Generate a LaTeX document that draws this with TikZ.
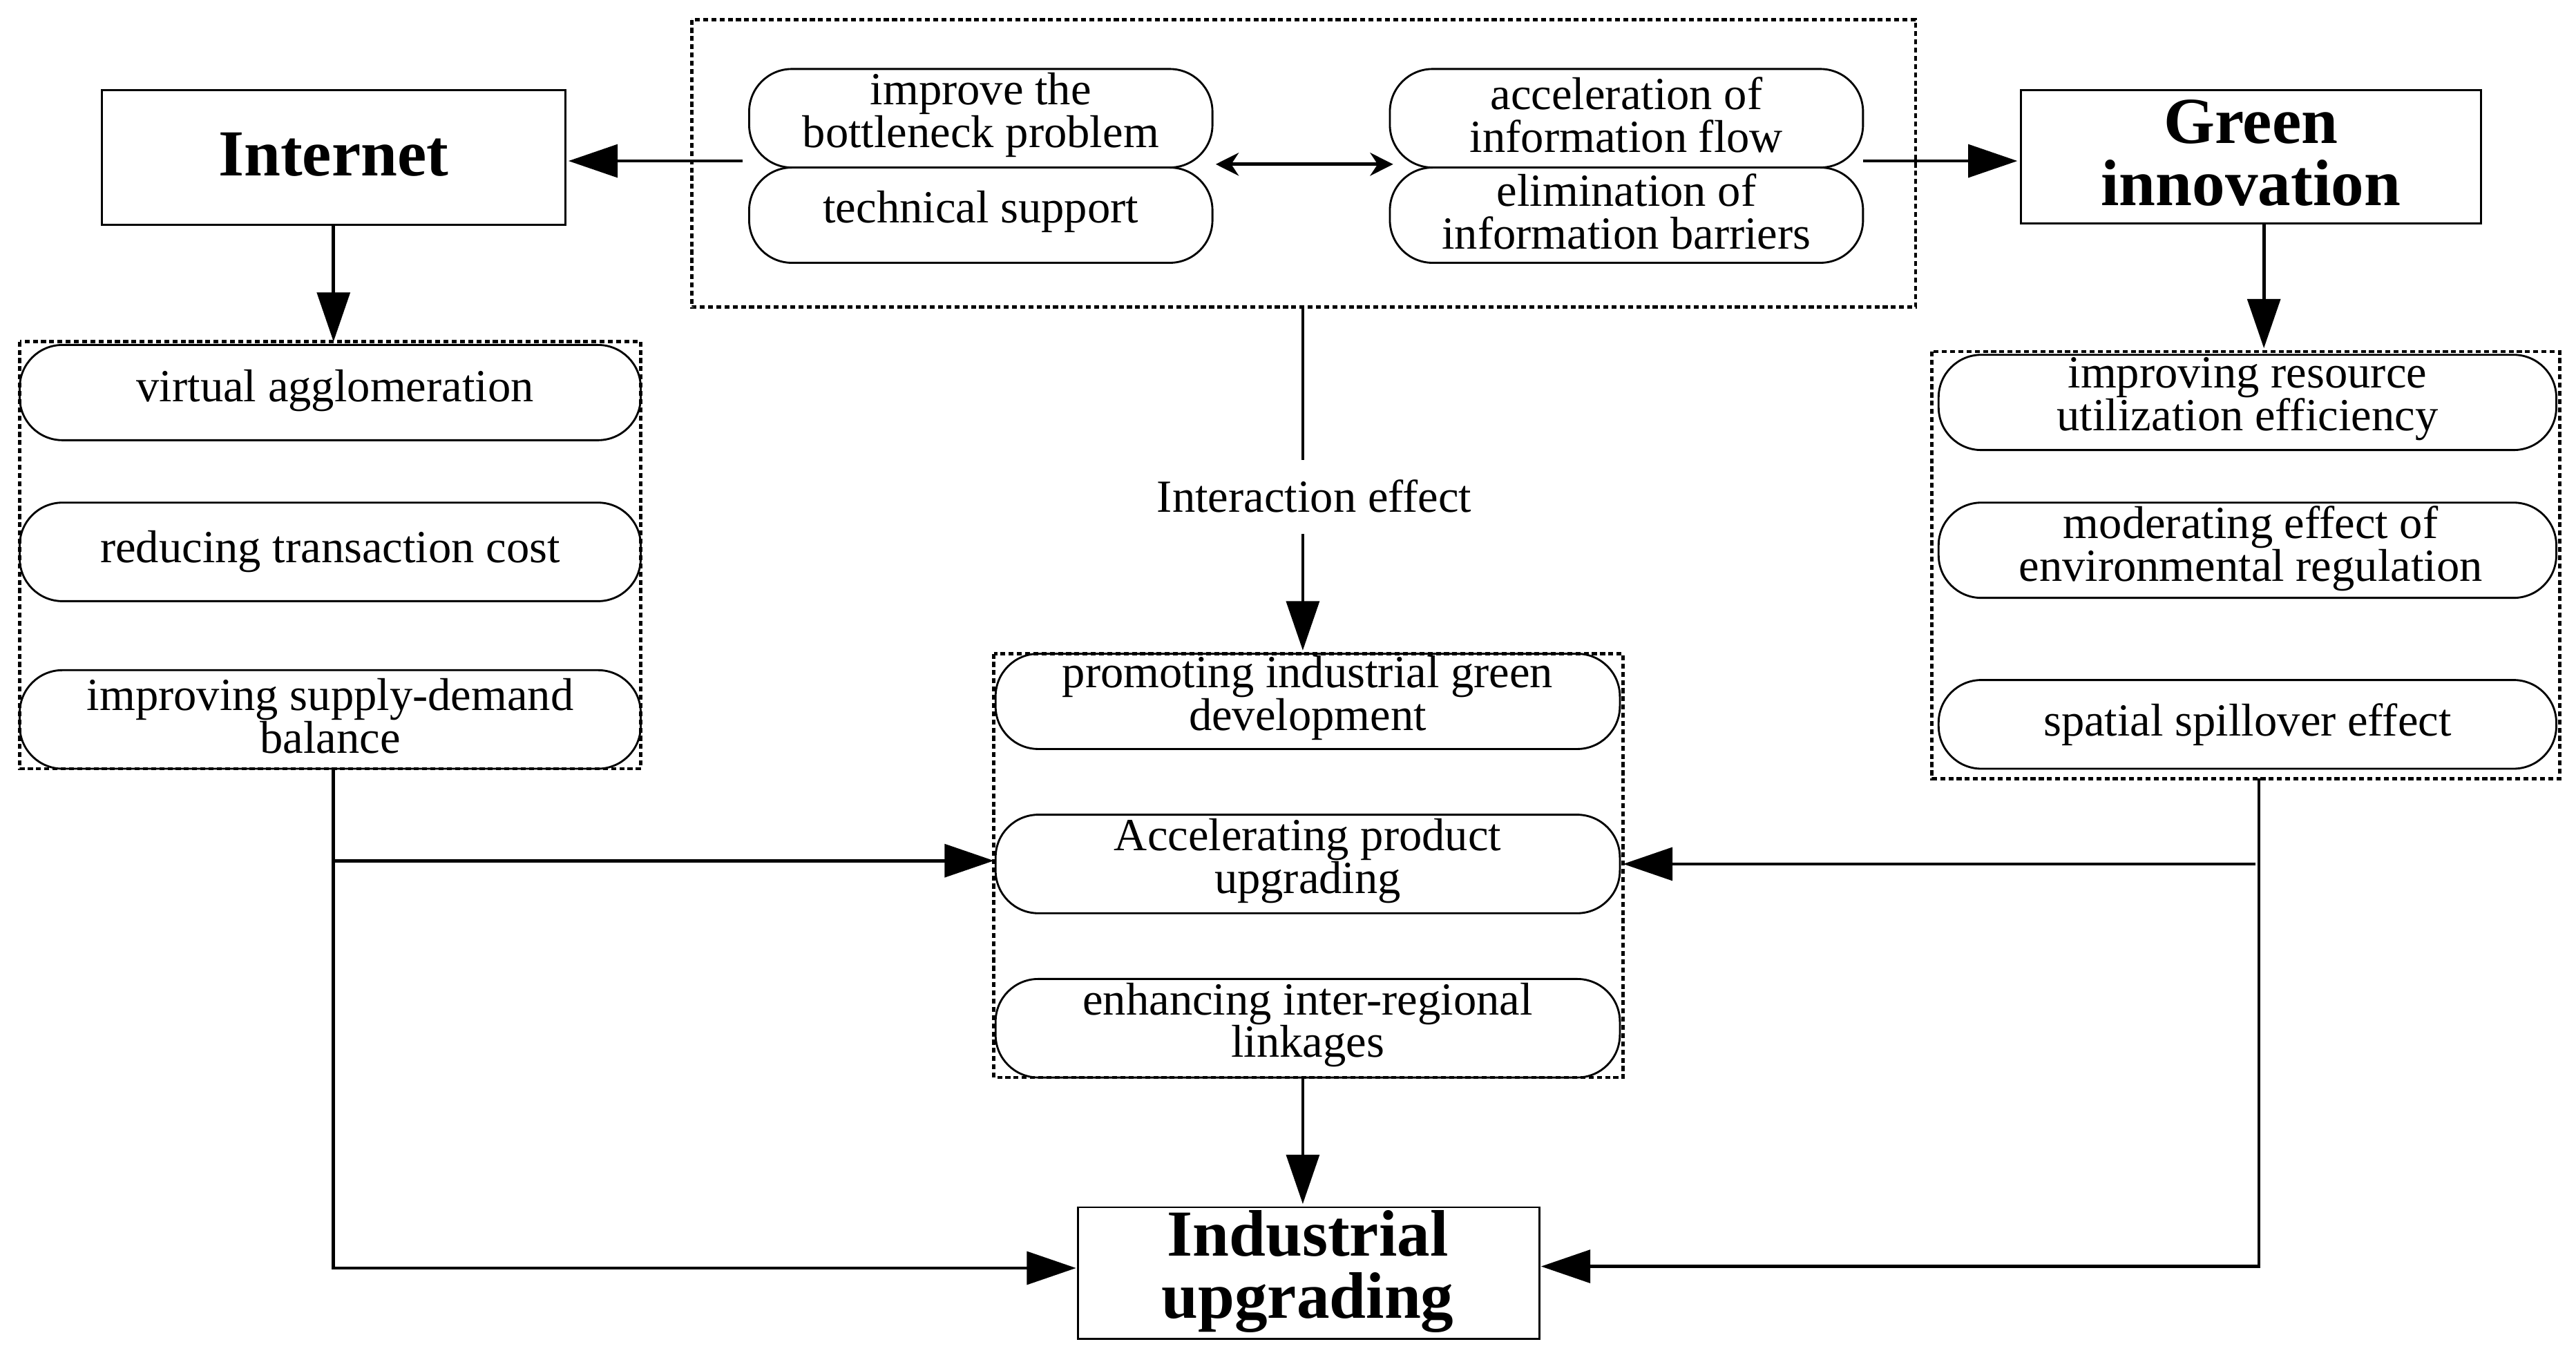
\documentclass[tikz,border=0pt]{standalone}
\usepackage{fontspec}
\setmainfont{Liberation Serif}
\usetikzlibrary{arrows.meta}
\begin{document}
\begin{tikzpicture}[x=1pt,y=-1pt,
  every node/.style={font=\fontsize{28}{26}\selectfont, align=center, inner sep=0pt},
  pill/.style={draw, line width=1.2pt, rounded corners=26pt},
  dbox/.style={draw, line width=2pt, dash pattern=on 3pt off 2pt},
  bbox/.style={draw, line width=1.2pt},
  arr/.style={line width=2pt, -{Triangle[length=30pt,width=20pt]}},
  ln/.style={line width=2pt}]
\useasboundingbox (0,0) rectangle (1568,829);
% top
\draw[dbox] (421,12) rectangle (1166,187);
\draw[pill] (456,42) rectangle (738,102); \node (p1) at (597,70) {improve the\\bottleneck problem};
\draw[pill] (456,102) rectangle (738,160); \node (p2) at (597,129) {technical support};
\draw[pill] (846,42) rectangle (1134,102); \node (p3) at (990,70) {acceleration of\\information flow};
\draw[pill] (846,102) rectangle (1134,160); \node (p4) at (990,129) {elimination of\\information barriers};
\coordinate (dl) at (740,100); \coordinate (dr) at (848,100);
\draw[line width=2pt,{Stealth[length=14pt,width=14pt]}-{Stealth[length=14pt,width=14pt]}] (dl) -- (dr);
% Internet
\draw[bbox] (62,55) rectangle (344,137);
\node[font=\fontsize{40}{38}\selectfont\bfseries] (inet) at (203,94) {Internet};
\coordinate (a1) at (452,98); \coordinate (a2) at (346,98);
\draw[arr] (a1) -- (a2);
% Green
\draw[bbox] (1230,55) rectangle (1510,136);
\node[font=\fontsize{40}{38}\selectfont\bfseries] (gi) at (1370,93) {Green\\innovation};
\coordinate (b1) at (1134,98); \coordinate (b2) at (1228,98);
\draw[arr] (b1) -- (b2);
% left box
\coordinate (c1) at (203,137); \coordinate (c2) at (203,208);
\draw[arr] (c1) -- (c2);
\draw[dbox] (12,208) rectangle (390,468);
\draw[pill] (12,210) rectangle (390,268); \node at (204,238) {virtual agglomeration};
\draw[pill] (12,306) rectangle (390,366); \node at (201,336) {reducing transaction cost};
\draw[pill] (12,408) rectangle (390,468); \node at (201,436) {improving supply-demand\\balance};
% right box
\coordinate (d1) at (1378,136); \coordinate (d2) at (1378,212);
\draw[arr] (d1) -- (d2);
\draw[dbox] (1176,214) rectangle (1558,474);
\draw[pill] (1180,216) rectangle (1556,274); \node at (1368,243) {improving resource\\utilization efficiency};
\draw[pill] (1180,306) rectangle (1556,364); \node at (1370,334) {moderating effect of\\environmental regulation};
\draw[pill] (1180,414) rectangle (1556,468); \node at (1368,441) {spatial spillover effect};
% center
\coordinate (e1) at (793,187); \coordinate (e2) at (793,280);
\draw[ln] (e1) -- (e2);
\node (ie) at (800,302) {Interaction effect};
\coordinate (e3) at (793,325); \coordinate (e4) at (793,396);
\draw[arr] (e3) -- (e4);
\draw[dbox] (605,398) rectangle (988,656);
\draw[pill] (606,398) rectangle (986,456); \node at (796,425) {promoting industrial green\\development};
\draw[pill] (606,496) rectangle (986,556); \node at (796,524) {Accelerating product\\upgrading};
\draw[pill] (606,596) rectangle (986,656); \node at (796,624) {enhancing inter-regional\\linkages};
\coordinate (f1) at (793,656); \coordinate (f2) at (793,733);
\draw[arr] (f1) -- (f2);
% industrial
\draw[bbox] (656,735) rectangle (937,815);
\node[font=\fontsize{40}{38}\selectfont\bfseries] (iu) at (796,774) {Industrial\\upgrading};
% left connectors
\coordinate (g1) at (203,468); \coordinate (g2) at (203,772); \coordinate (g3) at (655,772);
\draw[arr] (g1) -- (g2) -- (g3);
\coordinate (g4) at (203,524); \coordinate (g5) at (605,524);
\draw[arr] (g4) -- (g5);
% right connectors
\coordinate (h1) at (1375,474); \coordinate (h2) at (1375,771); \coordinate (h3) at (938,771);
\draw[arr] (h1) -- (h2) -- (h3);
\coordinate (h4) at (1373,526); \coordinate (h5) at (988,526);
\draw[arr] (h4) -- (h5);
\end{tikzpicture}
\end{document}
